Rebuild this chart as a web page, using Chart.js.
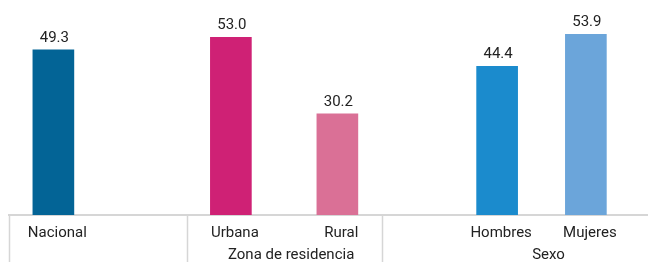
<!DOCTYPE html>
<html>
<head>
<meta charset="utf-8">
<script src="https://cdn.jsdelivr.net/npm/chart.js@4"></script>
<style>
  html, body { margin: 0; padding: 0; background: #fff; }
  #wrap { width: 648px; height: 262px; }
</style>
</head>
<body>
<div id="wrap"><canvas id="barChart" width="648" height="262"></canvas></div>
<script>
// data
const categories = ['Nacional', 'Urbana', 'Rural', 'Hombres', 'Mujeres'];
const values = [49.3, 53.0, 30.2, 44.4, 53.9];
const groupNames = ['', 'Zona de residencia', 'Sexo'];
const groupOf = [0, 1, 1, 2, 2];

// layout: the axis is split into narrow slots, bars sit in some of them
const SLOT_COUNT = 36;
const barSlot = [2, 12, 18, 27, 32];
const groupStartSlot = [0, 10, 21];
const barColors = ['#036496', '#cf2175', '#da7096', '#1b8bcd', '#6ba5da'];
const textColor = '#222222';
const lineColor = '#d6d6d6';
const FONT = 'Roboto, "Liberation Sans", sans-serif';

const slotLabels = [];
const slotValues = [];
const slotColors = [];
for (let i = 0; i < SLOT_COUNT; i++) {
    const k = barSlot.indexOf(i);
    slotLabels.push(k >= 0 ? categories[k] : '');
    slotValues.push(k >= 0 ? values[k] : null);
    slotColors.push(k >= 0 ? barColors[k] : 'transparent');
}

// value labels above bars, separators and group names under the axis
const extrasPlugin = {
    id: 'extras',
    afterDatasetsDraw(chart) {
        const ctx = chart.ctx;
        const meta = chart.getDatasetMeta(0);
        ctx.save();
        ctx.font = '15px ' + FONT;
        ctx.fillStyle = textColor;
        ctx.textAlign = 'center';
        ctx.textBaseline = 'alphabetic';
        meta.data.forEach((bar, i) => {
            if (slotValues[i] === null) return;
            ctx.fillText(slotValues[i].toFixed(1), bar.x + 1, bar.y - 8);
        });
        ctx.restore();
    },
    afterDraw(chart) {
        const ctx = chart.ctx;
        const xs = chart.scales.x;
        const area = chart.chartArea;
        const slotW = (area.right - area.left) / SLOT_COUNT;
        ctx.save();
        ctx.strokeStyle = lineColor;
        ctx.lineWidth = 1.5;
        groupStartSlot.forEach(s => {
            const px = Math.round(area.left + slotW * s) + 0.5;
            ctx.beginPath();
            ctx.moveTo(px, area.bottom);
            ctx.lineTo(px, chart.height);
            ctx.stroke();
        });
        ctx.font = '15px ' + FONT;
        ctx.fillStyle = textColor;
        ctx.textAlign = 'center';
        ctx.textBaseline = 'middle';
        groupNames.forEach((name, g) => {
            if (!name) return;
            const members = [];
            groupOf.forEach((gg, i) => { if (gg === g) members.push(xs.getPixelForValue(barSlot[i])); });
            const cx = (Math.min(...members) + Math.max(...members)) / 2;
            ctx.fillText(name, cx + 7, 255);
        });
        ctx.restore();
    }
};

new Chart(document.getElementById('barChart'), {
    type: 'bar',
    data: {
        labels: slotLabels,
        datasets: [{
            data: slotValues,
            backgroundColor: slotColors,
            barThickness: 41,
            borderWidth: 0
        }]
    },
    options: {
        responsive: false,
        animation: false,
        layout: { padding: { top: 14, left: 9, right: 0, bottom: 0 } },
        plugins: { legend: { display: false }, tooltip: { enabled: false } },
        scales: {
            x: {
                afterFit: scale => { scale.height = 47; },
                grid: { display: false },
                border: { display: true, color: lineColor, width: 2 },
                ticks: {
                    autoSkip: false,
                    maxRotation: 0,
                    labelOffset: 4,
                    padding: 1,
                    color: textColor,
                    font: { family: FONT, size: 15 }
                }
            },
            y: {
                display: false,
                min: 0,
                max: 60
            }
        }
    },
    plugins: [extrasPlugin]
});
</script>
</body>
</html>
